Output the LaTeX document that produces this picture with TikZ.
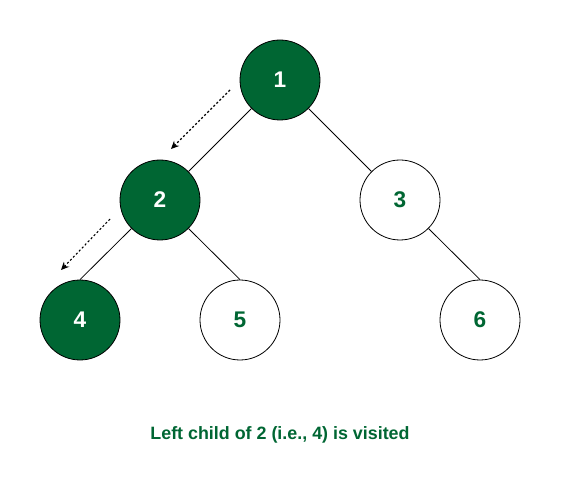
\documentclass[tikz,border=0pt]{standalone}
\usepackage{fontspec}
\setmainfont{Liberation Sans}
\usetikzlibrary{arrows.meta}
\definecolor{gfg}{RGB}{0,102,51}
\begin{document}
\begin{tikzpicture}[x=0.75pt,y=-0.75pt,
  vnode/.style={circle,draw=black,line width=0.6pt,minimum size=60pt,inner sep=0pt,font=\fontsize{17}{20}\selectfont\bfseries},
  visited/.style={vnode,fill=gfg,text=white},
  fresh/.style={vnode,fill=white,text=gfg},
  edge/.style={draw=black,line width=0.6pt},
  trail/.style={draw=black,line width=0.8pt,dash pattern=on 1.6pt off 1.6pt,-{Stealth[length=6pt,width=5.5pt]}}]
\useasboundingbox (0,0) rectangle (561,481);
\node[visited] (n1) at (280,80) {1};
\node[visited] (n2) at (160,200) {2};
\node[fresh] (n3) at (400,200) {3};
\node[visited] (n4) at (80,320) {4};
\node[fresh] (n5) at (240,320) {5};
\node[fresh] (n6) at (480,320) {6};
\draw[edge] (n1.south west) -- (n2.north east);
\draw[edge] (n1.south east) -- (n3.north west);
\draw[edge] (n2.south west) -- (n4.north);
\draw[edge] (n2.south east) -- (n5.north);
\draw[edge] (n3.south east) -- (n6.north);
\coordinate (a1s) at (230,90);
\coordinate (a1e) at (171,149);
\coordinate (a2s) at (110,219);
\coordinate (a2e) at (61,270);
\draw[trail] (a1s) -- (a1e);
\draw[trail] (a2s) -- (a2e);
\node[text=gfg,font=\fontsize{13.4}{16}\selectfont\bfseries] (cap) at (280,435) {Left child of 2 (i.e., 4) is visited};
\end{tikzpicture}
\end{document}
